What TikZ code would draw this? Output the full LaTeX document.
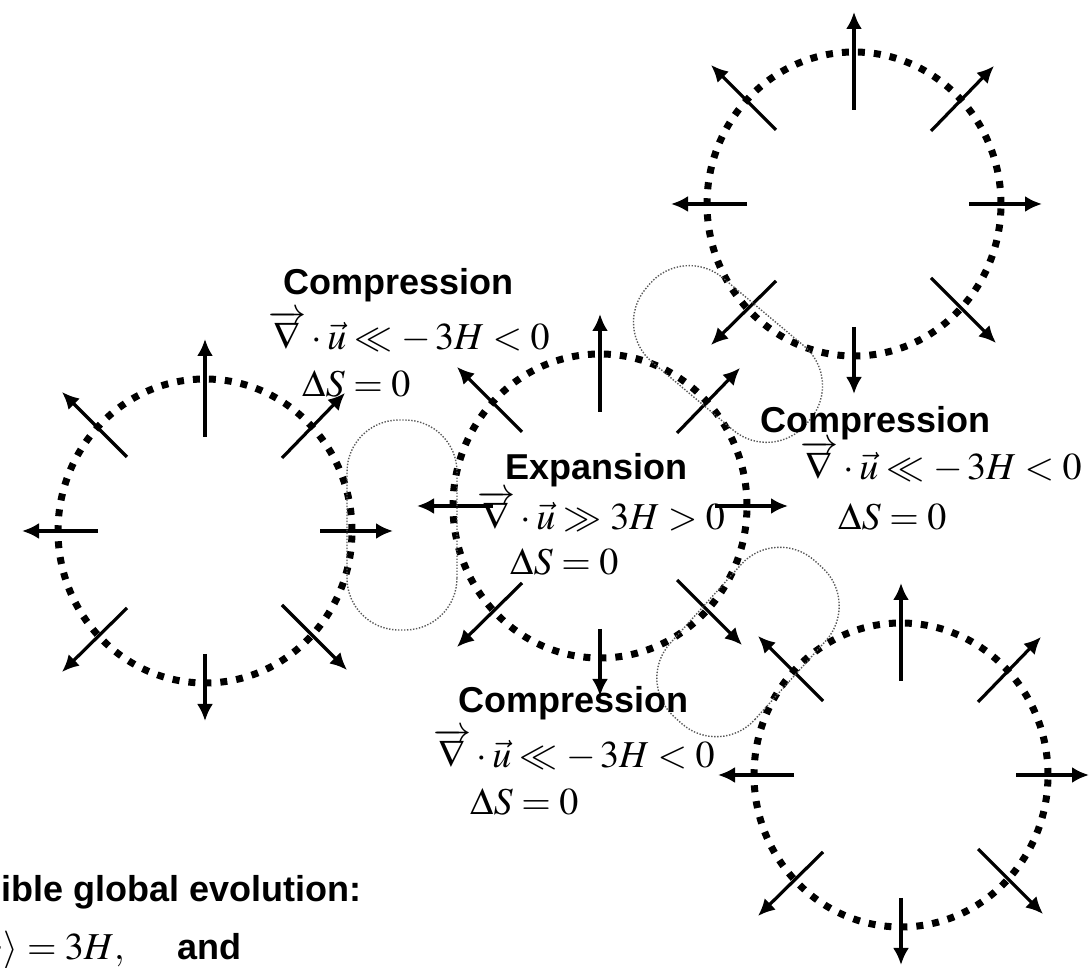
\documentclass[tikz,border=0pt]{standalone}
\usepackage[no-math]{fontspec}
\usepackage{mathptmx}
\setmainfont{Liberation Serif}
\setsansfont{Liberation Sans}
\usetikzlibrary{arrows.meta}
\tikzset{
  bigdots/.style={line width=3.5pt, dash pattern=on 3.5pt off 4.5pt},
  ray/.style={line width=1.6pt, -{Latex[length=8.5pt,width=8pt]}},
  bean/.style={line width=0.7pt, dash pattern=on 0.7pt off 0.8pt, black!65, rounded corners=26pt},
  lbl/.style={font=\sffamily\bfseries\fontsize{18}{20}\selectfont, inner sep=0pt, anchor=base west},
  eq/.style={font=\fontsize{19}{23}\selectfont, inner sep=0pt, anchor=base west},
  cell/.pic={
    \draw[bigdots] (0,0) ellipse [x radius=147, y radius=152];
    \foreach \a/\b/\c/\d in {0/94/0/192, 0/-123/0/-190, -107/0/-183/0, 115/0/188/0,
      -78/74/-143/139, 77/73/140/138, -78/-77/-143/-141, 77/-74/142/-139}
      \draw[ray] (\a,\b) -- (\c,\d);
  }
}
\begin{document}
\begin{tikzpicture}[x=0.5pt,y=0.5pt]
\useasboundingbox (0,0) rectangle (1092,968);
% cells
\coordinate (c1) at (205,437);
\coordinate (c2) at (600,462);
\coordinate (c3) at (854,764);
\coordinate (c4) at (901,193);
\pic at (c1) {cell};
\pic at (c2) {cell};
\pic at (c3) {cell};
\pic at (c4) {cell};
% contact regions
\draw[bean, shift={(402,443)}, rotate=90] (-105,-55) -- (105,-55) -- (105,55) -- (-105,55) -- cycle;
\draw[bean, shift={(728,614)}, rotate=-40] (-105,-55) -- (105,-55) -- (105,55) -- (-105,55) -- cycle;
\draw[bean, shift={(748,326)}, rotate=48] (-105,-57) -- (105,-57) -- (105,57) -- (-105,57) -- cycle;
% labels
\node[lbl] (t1) at (283,673) {Compression};
\node[eq] (t2) at (268,618) {$\overrightarrow{\nabla}\cdot\vec{u} \ll{-}\,3H < 0$};
\node[eq] (t3) at (302,571) {$\Delta S = 0$};
\node[lbl] (e1) at (505,488) {Expansion};
\node[eq] (e2) at (477,438) {$\overrightarrow{\nabla}\cdot\vec{u} \gg 3H > 0$};
\node[eq] (e3) at (510,393) {$\Delta S = 0$};
\node[lbl] (r1) at (760,535) {Compression};
\node[eq] (r2) at (800,488) {$\overrightarrow{\nabla}\cdot\vec{u} \ll{-}\,3H < 0$};
\node[eq] (r3) at (838,438) {$\Delta S = 0$};
\node[lbl] (b1) at (458,255) {Compression};
\node[eq] (b2) at (433,200) {$\overrightarrow{\nabla}\cdot\vec{u} \ll{-}\,3H < 0$};
\node[eq] (b3) at (470,153) {$\Delta S = 0$};
% cropped caption
\node[lbl, anchor=base east] (g1) at (362,66) {Possible global evolution:};
\node[eq, anchor=base east] (g2) at (125,8) {$\langle\vartheta\rangle = 3H,$};
\node[lbl] (g3) at (177,8) {and};
\end{tikzpicture}
\end{document}
